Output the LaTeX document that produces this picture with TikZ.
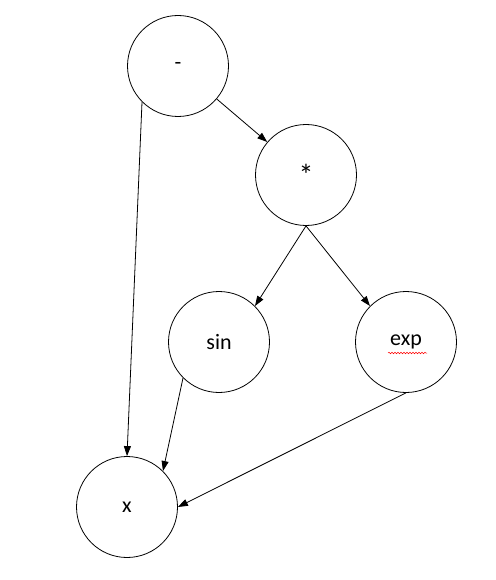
\documentclass[tikz,border=0pt]{standalone}
\usepackage{fontspec}
\setmainfont{Carlito}
\usetikzlibrary{arrows.meta,decorations.pathmorphing}
\begin{document}
\begin{tikzpicture}[x=1pt,y=-1pt,
  opnode/.style={circle,draw,line width=0.8pt,minimum size=101pt,inner sep=0pt,font=\fontsize{22}{26}\selectfont},
  edge/.style={line width=0.8pt,-{Triangle[length=10pt,width=7pt]}}]
\useasboundingbox (0,0) rectangle (495,580);
\fill[white] (0,0) rectangle (495,580);
\node[opnode] (minus) at (178,66) {-};
\node[opnode] (times) at (306,175) {\raisebox{-0.15em}{\fontsize{30}{30}\selectfont *}};
\node[opnode] (sin) at (219,342) {sin};
\node[opnode] (exp) at (406,342) {exp};
\node[opnode] (x) at (127,507) {x};
\draw[edge] (minus.225) -- (x.north);
\draw[edge] (minus) -- (times);
\draw[edge] (times.south) -- (sin.45);
\draw[edge] (times.south) -- (exp.135);
\draw[edge] (sin.225) -- (x.45);
\draw[edge] (exp.south) -- (x.east);
\coordinate (wl) at (388,353);
\coordinate (wr) at (427,353);
\draw[red,line width=0.5pt,decorate,decoration={snake,amplitude=0.8pt,segment length=3pt}] (wl) -- (wr);
\end{tikzpicture}
\end{document}
